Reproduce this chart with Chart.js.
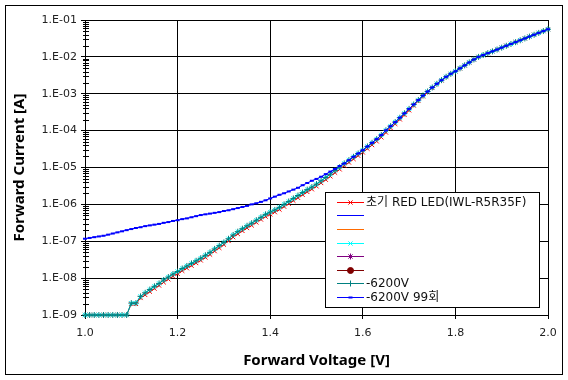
<!DOCTYPE html>
<html><head><meta charset="utf-8">
<script src="https://cdn.jsdelivr.net/npm/chart.js@4"></script>
<style>
html,body{margin:0;padding:0;background:#fff;}
#wrap{position:relative;width:568px;height:380px;background:#fff;}
#frame{position:absolute;left:5px;top:5px;width:556px;height:368px;border:1px solid #000;pointer-events:none;}
canvas{position:absolute;left:0;top:0;}
</style></head><body>
<div id="wrap"><canvas id="c" width="568" height="380"></canvas><div id="frame"></div></div>
<script>
const voltage = [1.00,1.01,1.02,1.03,1.04,1.05,1.06,1.07,1.08,1.09,
1.10,1.11,1.12,1.13,1.14,1.15,1.16,1.17,1.18,1.19,
1.20,1.21,1.22,1.23,1.24,1.25,1.26,1.27,1.28,1.29,
1.30,1.31,1.32,1.33,1.34,1.35,1.36,1.37,1.38,1.39,
1.40,1.41,1.42,1.43,1.44,1.45,1.46,1.47,1.48,1.49,
1.50,1.51,1.52,1.53,1.54,1.55,1.56,1.57,1.58,1.59,
1.60,1.61,1.62,1.63,1.64,1.65,1.66,1.67,1.68,1.69,
1.70,1.71,1.72,1.73,1.74,1.75,1.76,1.77,1.78,1.79,
1.80,1.81,1.82,1.83,1.84,1.85,1.86,1.87,1.88,1.89,
1.90,1.91,1.92,1.93,1.94,1.95,1.96,1.97,1.98,1.99,2.00];

const currentInitial = [1e-9,1e-9,1e-9,1e-9,1e-9,1e-9,1e-9,1e-9,1e-9,1e-9,
2.0e-9,2.0e-9,2.9e-9,3.5e-9,4.3e-9,5.2e-9,6.3e-9,7.7e-9,9.3e-9,1.12e-8,
1.31e-8,1.58e-8,1.86e-8,2.18e-8,2.57e-8,3.02e-8,3.63e-8,4.36e-8,5.4e-8,6.6e-8,
8.1e-8,1.02e-7,1.29e-7,1.58e-7,1.91e-7,2.29e-7,2.69e-7,3.24e-7,3.89e-7,4.67e-7,
5.37e-7,6.16e-7,7.24e-7,8.7e-7,1.04e-6,1.26e-6,1.51e-6,1.82e-6,2.18e-6,2.57e-6,
3.09e-6,3.80e-6,4.67e-6,5.75e-6,7.24e-6,8.9e-6,1.12e-5,1.37e-5,1.70e-5,2.09e-5,
2.57e-5,3.24e-5,4.07e-5,5.12e-5,6.6e-5,8.9e-5,1.18e-4,1.52e-4,2.02e-4,2.68e-4,
3.56e-4,4.8e-4,6.4e-4,8.5e-4,1.11e-3,1.44e-3,1.82e-3,2.30e-3,2.84e-3,3.43e-3,
4.03e-3,4.86e-3,5.85e-3,7.04e-3,8.47e-3,9.96e-3,1.12e-2,1.26e-2,1.41e-2,1.58e-2,
1.78e-2,2.00e-2,2.24e-2,2.51e-2,2.82e-2,3.16e-2,3.55e-2,3.98e-2,4.47e-2,5.01e-2,5.62e-2];

const current6200V = [1e-9,1e-9,1e-9,1e-9,1e-9,1e-9,1e-9,1e-9,1e-9,1e-9,
2.1e-9,2.1e-9,3.2e-9,4.0e-9,4.9e-9,6.0e-9,7.2e-9,8.9e-9,1.07e-8,1.29e-8,
1.51e-8,1.82e-8,2.14e-8,2.51e-8,2.95e-8,3.47e-8,4.17e-8,5.0e-8,6.2e-8,7.6e-8,
9.3e-8,1.17e-7,1.48e-7,1.82e-7,2.19e-7,2.63e-7,3.09e-7,3.72e-7,4.47e-7,5.37e-7,
6.17e-7,7.08e-7,8.32e-7,1.0e-6,1.20e-6,1.45e-6,1.74e-6,2.09e-6,2.51e-6,2.95e-6,
3.55e-6,4.37e-6,5.37e-6,6.61e-6,8.32e-6,1.02e-5,1.29e-5,1.58e-5,1.95e-5,2.40e-5,
2.95e-5,3.72e-5,4.68e-5,5.89e-5,7.59e-5,1.02e-4,1.32e-4,1.70e-4,2.24e-4,2.95e-4,
3.89e-4,5.13e-4,6.76e-4,8.91e-4,1.15e-3,1.48e-3,1.86e-3,2.34e-3,2.88e-3,3.47e-3,
4.07e-3,4.90e-3,5.89e-3,7.08e-3,8.51e-3,1.0e-2,1.12e-2,1.26e-2,1.41e-2,1.58e-2,
1.78e-2,2.00e-2,2.24e-2,2.51e-2,2.82e-2,3.16e-2,3.55e-2,3.98e-2,4.47e-2,5.01e-2,5.62e-2];

const current6200V99 = [1.17e-7,1.23e-7,1.29e-7,1.35e-7,1.41e-7,1.51e-7,1.62e-7,1.74e-7,1.86e-7,2.00e-7,
2.14e-7,2.29e-7,2.40e-7,2.57e-7,2.69e-7,2.82e-7,2.95e-7,3.16e-7,3.31e-7,3.55e-7,
3.72e-7,3.98e-7,4.17e-7,4.47e-7,4.79e-7,5.13e-7,5.37e-7,5.62e-7,5.89e-7,6.17e-7,
6.61e-7,6.92e-7,7.41e-7,7.94e-7,8.51e-7,9.12e-7,1.00e-6,1.07e-6,1.17e-6,1.29e-6,
1.45e-6,1.62e-6,1.82e-6,2.00e-6,2.24e-6,2.51e-6,2.82e-6,3.31e-6,3.80e-6,4.37e-6,
4.90e-6,5.62e-6,6.61e-6,7.76e-6,9.12e-6,1.10e-5,1.29e-5,1.58e-5,1.95e-5,2.40e-5,
2.95e-5,3.72e-5,4.68e-5,5.89e-5,7.59e-5,1.02e-4,1.32e-4,1.70e-4,2.24e-4,2.95e-4,
3.89e-4,5.13e-4,6.76e-4,8.91e-4,1.15e-3,1.48e-3,1.86e-3,2.34e-3,2.88e-3,3.47e-3,
4.07e-3,4.90e-3,5.89e-3,7.08e-3,8.51e-3,1.0e-2,1.12e-2,1.26e-2,1.41e-2,1.58e-2,
1.78e-2,2.00e-2,2.24e-2,2.51e-2,2.82e-2,3.16e-2,3.55e-2,3.98e-2,4.47e-2,5.01e-2,5.62e-2];

const seriesNames = ['초기 RED LED(IWL-R5R35F)','','','','','','-6200V','-6200V 99회'];
const xTickValues = [1.0,1.2,1.4,1.6,1.8,2.0];
const xTickLabels = ['1.0','1.2','1.4','1.6','1.8','2.0'];
const yDecades = [-9,-8,-7,-6,-5,-4,-3,-2,-1];
const yTickLabels = ['1.E-09','1.E-08','1.E-07','1.E-06','1.E-05','1.E-04','1.E-03','1.E-02','1.E-01'];
const xTitle = 'Forward Voltage [V]';
const yTitle = 'Forward Current [A]';

function pts(arr){ return voltage.map((v,i)=>({x:v,y:arr[i]})); }

function ds(label, color, style, radius, data, order, extra){
  return Object.assign({label, data, borderColor:color, backgroundColor:color, borderWidth:1,
    pointStyle:style, pointRadius:radius, pointBorderWidth:1, pointBorderColor:color, pointBackgroundColor:color,
    showLine:true, tension:0, clip:false, order}, extra||{});
}

const datasets = [
  ds(seriesNames[0], '#ff0000', 'crossRot', 3, pts(currentInitial), 6),
  ds(seriesNames[1], '#0000ff', false, 0, [], 5),
  ds(seriesNames[2], '#ff6a00', false, 0, [], 5),
  ds(seriesNames[3], '#00ffff', 'crossRot', 3, pts(current6200V), 4),
  ds(seriesNames[4], '#800080', 'star', 3, [], 5),
  ds(seriesNames[5], '#800000', 'circle', 3, [], 5),
  ds(seriesNames[6], '#008080', 'cross', 3, pts(current6200V), 3),
  ds(seriesNames[7], '#0000ff', 'line', 2, pts(current6200V99), 1, {pointBorderWidth:2})
];

const legendPlugin = {
  id:'boxLegend',
  afterDraw(chart){
    const ctx = chart.ctx;
    const bx = 325.5, by = 192.5, bw = 214, bh = 115;
    ctx.save();
    ctx.fillStyle = '#fff';
    ctx.fillRect(bx, by, bw, bh);
    ctx.strokeStyle = '#000'; ctx.lineWidth = 1;
    ctx.strokeRect(bx, by, bw, bh);
    chart.data.datasets.forEach((d, i) => {
      const y = Math.round(201.7 + i*13.6) + 0.5;
      ctx.strokeStyle = d.borderColor; ctx.lineWidth = 1;
      ctx.beginPath(); ctx.moveTo(337, y); ctx.lineTo(364, y); ctx.stroke();
      if (d.pointStyle) {
        ctx.strokeStyle = d.pointBorderColor; ctx.fillStyle = d.pointBackgroundColor;
        ctx.lineWidth = d.pointBorderWidth;
        Chart.helpers.drawPoint(ctx, {pointStyle:d.pointStyle, radius:d.pointRadius, rotation:0, borderWidth:d.pointBorderWidth}, 350.5, y);
      }
      if (d.label) {
        ctx.fillStyle = '#111';
        ctx.font = '12px "DejaVu Sans", "Noto Sans CJK KR", sans-serif';
        ctx.textBaseline = 'middle'; ctx.textAlign = 'left';
        ctx.fillText(d.label, 366, y);
      }
    });
    ctx.restore();
  }
};

const minorTickPlugin = {
  id:'minorTicks',
  afterDatasetsDraw(chart){
    const ys = chart.scales.y, ctx = chart.ctx;
    const x0 = chart.chartArea.left;
    ctx.save(); ctx.strokeStyle = '#000'; ctx.lineWidth = 1;
    ys.ticks.forEach(t => {
      if (t.major) return;
      const py = Math.round(ys.getPixelForValue(t.value)) + 0.5;
      ctx.beginPath(); ctx.moveTo(x0 - 2, py); ctx.lineTo(x0 + 4, py); ctx.stroke();
    });
    ctx.restore();
  }
};

new Chart(document.getElementById('c'), {
  type:'scatter',
  data:{datasets},
  plugins:[minorTickPlugin, legendPlugin],
  options:{
    responsive:false, animation:false, devicePixelRatio:1,
    layout:{padding:{top:20, right:20, left:0, bottom:0}},
    plugins:{legend:{display:false}, tooltip:{enabled:false}},
    scales:{
      x:{
        type:'linear', min:1.0, max:2.0,
        afterBuildTicks: s => { s.ticks = xTickValues.map(v => ({value:v})); },
        afterFit: s => { s.height = 65; },
        ticks:{autoSkip:false, maxRotation:0, padding:8, color:'#222', font:{family:'DejaVu Sans', size:11},
          callback:(v,i) => xTickLabels[i]},
        grid:{color:'#000', lineWidth:1, tickLength:4, tickColor:'#000'},
        border:{display:true, color:'#000', width:1},
        title:{display:true, text:xTitle, color:'#000', font:{family:'Noto Sans', size:15, weight:'bold'}, padding:{top:0, bottom:10}}
      },
      y:{
        type:'logarithmic', min:1e-9, max:1e-1,
        afterBuildTicks: s => {
          const t = [];
          yDecades.forEach(e => {
            for (let k=1; k<=9; k++){
              if (e === -1 && k > 1) break;
              t.push({value: k*Math.pow(10,e), major: k===1});
            }
          });
          s.ticks = t;
        },
        afterFit: s => { s.width = 85; },
        ticks:{autoSkip:false, padding:4, color:'#222', font:{family:'DejaVu Sans', size:11},
          callback:(v,i,ticks) => {
            if (!ticks[i].major) return '';
            const e = Math.round(Math.log10(v));
            return yTickLabels[yDecades.indexOf(e)];
          }},
        grid:{color: c => (c.tick && c.tick.major) ? '#000' : 'rgba(0,0,0,0)', lineWidth:1, tickLength:4,
          tickColor: c => (c.tick && c.tick.major) ? '#000' : 'rgba(0,0,0,0)'},
        border:{display:true, color:'#000', width:1},
        title:{display:true, text:yTitle, color:'#000', font:{family:'Noto Sans', size:15, weight:'bold'}, padding:{top:11, bottom:0}}
      }
    }
  }
});
</script>
</body></html>
